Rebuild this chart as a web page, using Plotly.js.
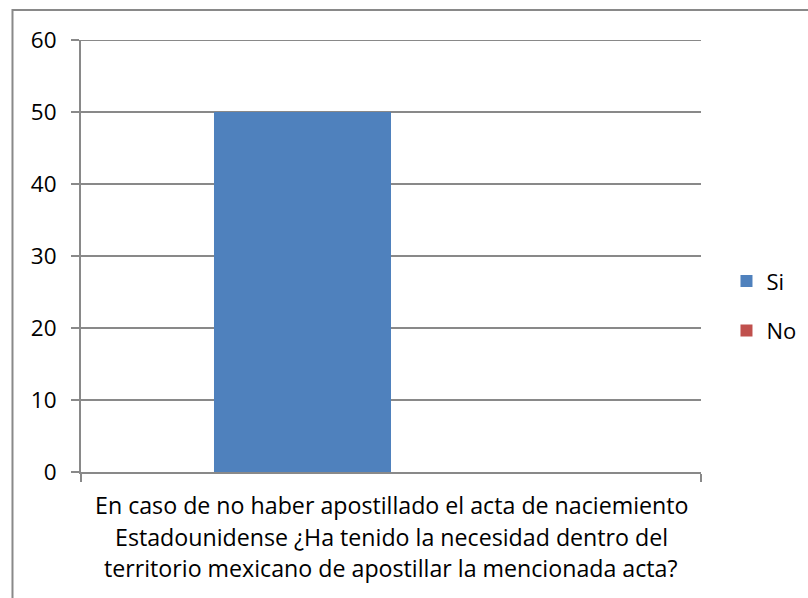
<!DOCTYPE html>
<html>
<head>
<meta charset="utf-8">
<script src="https://cdn.plot.ly/plotly-3.0.1.min.js"></script>
<style>html,body{margin:0;padding:0;background:#fff;}#chart{width:808px;height:598px;}</style>
</head>
<body>
<div id="chart"></div>
<script>
const categories = ["En caso de no haber apostillado el acta de naciemiento<br>Estadounidense ¿Ha tenido la necesidad dentro del<br>territorio mexicano de apostillar la mencionada acta?"];
const siValues = [50];
const noValues = [0];
const yTicks = [0, 10, 20, 30, 40, 50, 60];

const FONT = "Open Sans, Liberation Sans, Arial, sans-serif";
const GRAY = "#898989";

const traces = [
  {type: "bar", name: "Si", x: categories, y: siValues, marker: {color: "#4F81BD"}, legendgroup: "a"},
  {type: "bar", name: "No", x: categories, y: noValues, marker: {color: "#C0504D"}, legendgroup: "b"}
];

// category label lines drawn as annotations under the category position
const labelLines = categories[0].split("<br>");
const lineShifts = [-33, -65, -96];
const annotations = labelLines.map((t, i) => ({
  text: t, x: categories[0], xref: "x", y: 0, yref: "paper",
  yanchor: "middle", xanchor: "center", yshift: lineShifts[i],
  showarrow: false, font: {family: FONT, size: 23.2, color: "#000"}
}));

const layout = {
  width: 808, height: 598,
  margin: {l: 81, r: 107, t: 40, b: 126, autoexpand: false},
  paper_bgcolor: "#fff", plot_bgcolor: "#fff",
  font: {family: FONT, size: 22, color: "#000"},
  barmode: "group",
  bargap: 0.429, bargroupgap: 0,
  showlegend: true,
  legend: {x: 1.0411, y: 0.384, yanchor: "middle", xanchor: "left", font: {family: FONT, size: 22}, tracegroupgap: 18, traceorder: "grouped", bgcolor: "rgba(0,0,0,0)"},
  xaxis: {type: "category", showline: true, linecolor: GRAY, linewidth: 2, ticks: "outside", tickson: "boundaries", ticklen: 8, tickwidth: 2, tickcolor: GRAY, showgrid: false, showticklabels: false, automargin: false},
  yaxis: {range: [0, 60], tickvals: yTicks, showline: true, linecolor: GRAY, linewidth: 2, ticks: "outside", ticklen: 8, tickwidth: 2, tickcolor: GRAY, gridcolor: GRAY, gridwidth: 2, zeroline: false, tickfont: {family: FONT, size: 22.5}, ticklabelstandoff: 10, automargin: false},
  annotations: annotations,
  shapes: [
    {type: "rect", xref: "paper", yref: "paper", x0: -0.1105, x1: 1.5, y0: -0.6, y1: 1.0694, line: {color: GRAY, width: 2}, fillcolor: "rgba(0,0,0,0)", layer: "below"},
    {type: "line", xref: "paper", yref: "y", x0: 0, x1: 1, y0: 60, y1: 60, line: {color: GRAY, width: 2}, layer: "below"}
  ]
};

Plotly.newPlot("chart", traces, layout, {displayModeBar: false, staticPlot: true});
</script>
</body>
</html>
